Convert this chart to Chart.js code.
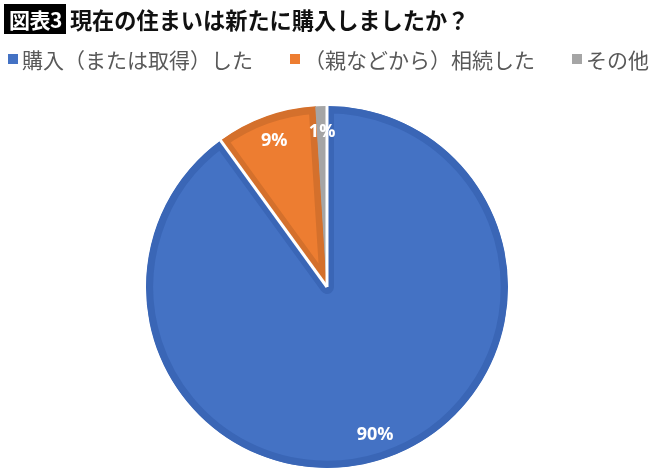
<!DOCTYPE html>
<html lang="ja">
<head>
<meta charset="utf-8">
<script src="https://cdn.jsdelivr.net/npm/chart.js@4/dist/chart.umd.min.js"></script>
<style>
  html, body { margin: 0; padding: 0; background: #fff; }
  #wrap { position: relative; width: 670px; height: 473px; overflow: hidden; font-family: "Noto Sans CJK JP", "Noto Sans", sans-serif; }
  #title { position: absolute; left: 4px; top: 4px; height: 30px; display: flex; align-items: center; white-space: nowrap; }
  #badge { background: #000; color: #fff; font-weight: bold; font-size: 21px; line-height: 30px; padding: 0 4px 0 5px; margin-right: 4px; letter-spacing: -0.5px; }
  #ttext { color: #111; font-weight: bold; font-size: 22.2px; line-height: 30px; }
  #legend { position: absolute; left: 8px; top: 44px; display: flex; align-items: center; white-space: nowrap; color: #595959; font-size: 21px; }
  .item { display: flex; align-items: center; margin-right: 37px; }
  .sw { width: 10px; height: 10px; margin-right: 4px; }
  canvas { position: absolute; left: 0; top: 0; }
</style>
</head>
<body>
<div id="wrap">
  <canvas id="c" width="670" height="473"></canvas>
  <div id="title"><span id="badge">図表3</span><span id="ttext">現在の住まいは新たに購入しましたか？</span></div>
  <div id="legend"></div>
</div>
<script>
const titleBadge = "図表3";
const titleText = "現在の住まいは新たに購入しましたか？";
const categories = ["購入（または取得）した", "（親などから）相続した", "その他"];
const values = [90, 9, 1];
const valueLabels = ["90%", "9%", "1%"];
const fillColors = ["#4472C4", "#ED7D31", "#A5A5A5"];
const edgeColors = ["#3A66B6", "#D4702C", "#A5A5A5"];

document.getElementById('badge').textContent = titleBadge;
document.getElementById('ttext').textContent = titleText;

// HTML legend built from the data arrays
const lg = document.getElementById('legend');
categories.forEach((c, i) => {
  const it = document.createElement('div'); it.className = 'item';
  const sw = document.createElement('div'); sw.className = 'sw'; sw.style.background = fillColors[i];
  const tx = document.createElement('span'); tx.textContent = c;
  it.appendChild(sw); it.appendChild(tx); lg.appendChild(it);
});

const labelPlugin = {
  id: 'sliceLabels',
  afterDatasetsDraw(chart) {
    const ctx = chart.ctx;
    const meta = chart.getDatasetMeta(0);
    ctx.save();
    // thin white separators on both straight edges of the first (largest) slice
    const b = meta.data[0].getProps(['x', 'y', 'startAngle', 'endAngle', 'outerRadius'], true);
    ctx.strokeStyle = '#fff';
    ctx.lineWidth = 3;
    [b.startAngle, b.endAngle].forEach(a => {
      ctx.beginPath();
      ctx.moveTo(b.x, b.y);
      ctx.lineTo(b.x + Math.cos(a) * (b.outerRadius + 2), b.y + Math.sin(a) * (b.outerRadius + 2));
      ctx.stroke();
    });
    ctx.fillStyle = '#fff';
    ctx.font = 'bold 18px "Open Sans", "Noto Sans", sans-serif';
    ctx.textAlign = 'center';
    ctx.textBaseline = 'middle';
    meta.data.forEach((arc, i) => {
      const p = arc.getProps(['x', 'y', 'startAngle', 'endAngle', 'outerRadius'], true);
      const mid = (p.startAngle + p.endAngle) / 2;
      const r = p.outerRadius * 0.86;
      ctx.fillText(valueLabels[i], p.x + Math.cos(mid) * r, p.y + Math.sin(mid) * r);
    });
    ctx.restore();
  }
};

new Chart(document.getElementById('c'), {
  type: 'pie',
  data: {
    labels: categories,
    datasets: [{
      data: values,
      backgroundColor: fillColors,
      borderColor: edgeColors,
      borderWidth: 7,
      borderAlign: 'inner'
    }]
  },
  options: {
    responsive: false,
    animation: false,
    layout: { padding: { top: 106, bottom: 5, left: 146, right: 162 } },
    plugins: {
      legend: { display: false },
      tooltip: { enabled: false },
      title: { display: false }
    }
  },
  plugins: [labelPlugin]
});
</script>
</body>
</html>
